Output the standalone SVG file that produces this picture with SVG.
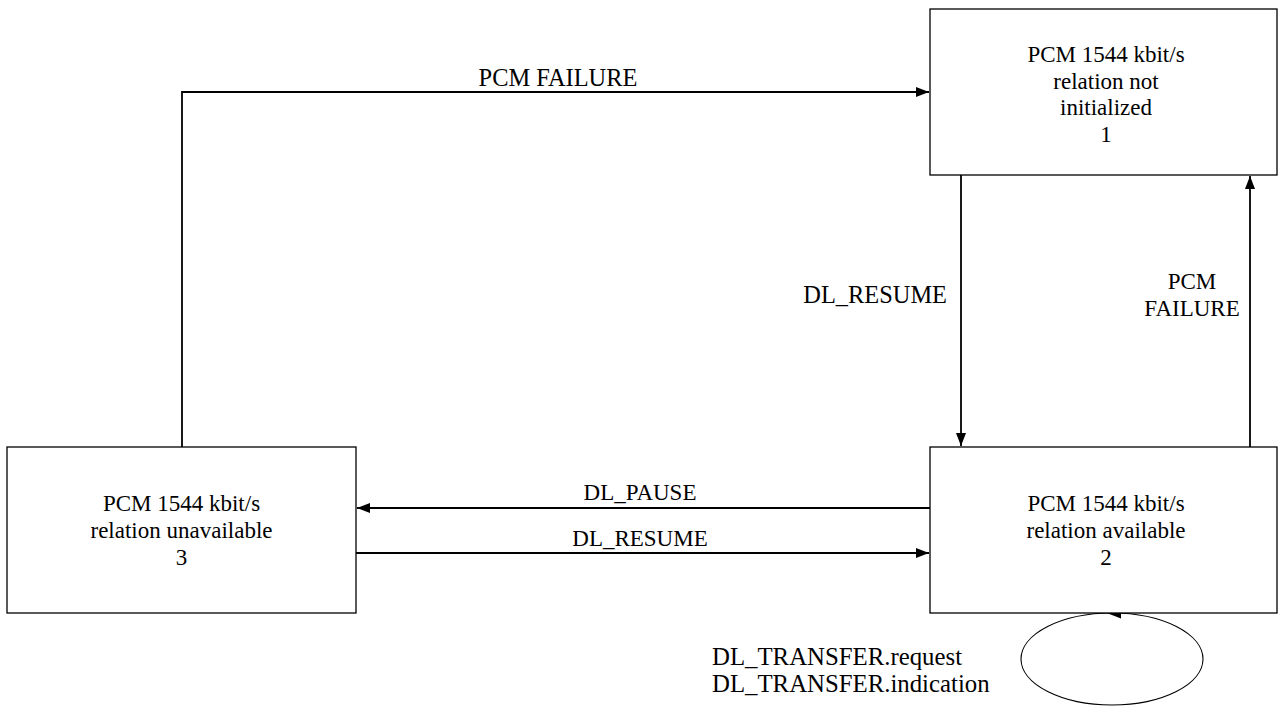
<svg xmlns="http://www.w3.org/2000/svg" width="1278" height="707" viewBox="0 0 1278 707">
<style>
.box{fill:#fff;stroke:#000;stroke-width:1.3}
.t{font-family:"Liberation Serif","Times New Roman",serif;font-size:23px;fill:#000}
.m{text-anchor:middle}
.c{fill:none;stroke:#000;stroke-width:1.8}
</style>
<defs>
<marker id="ah" markerUnits="userSpaceOnUse" markerWidth="14" markerHeight="11" refX="13" refY="5" orient="auto">
<path d="M0,0 L13,5 L0,10 z" fill="#000"/>
</marker>
</defs>
<rect width="1278" height="707" fill="#fff"/>
<g id="connectors">
<path class="c" d="M182,447 V92 H929" marker-end="url(#ah)"/>
<path class="c" d="M961,175 V446" marker-end="url(#ah)"/>
<path class="c" d="M1250,447 V176" marker-end="url(#ah)"/>
<path class="c" d="M930,508 H357" marker-end="url(#ah)"/>
<path class="c" d="M356,553 H929" marker-end="url(#ah)"/>
<ellipse cx="1112" cy="659" rx="91" ry="46" fill="none" stroke="#000" stroke-width="1.1"/>
<path d="M1108,613.5 L1121,608.5 L1121,618.5 z" fill="#000"/>
<text class="t m" x="558" y="86" style="font-size:24.4px">PCM FAILURE</text>
<text class="t" x="947" y="303" text-anchor="end" style="font-size:24.4px">DL_RESUME</text>
<text class="t m" x="1192" y="289">PCM</text>
<text class="t m" x="1192" y="316">FAILURE</text>
<text class="t m" x="640" y="500">DL_PAUSE</text>
<text class="t m" x="640" y="546">DL_RESUME</text>
<text class="t" x="712" y="665" style="font-size:24.8px">DL_TRANSFER.request</text>
<text class="t" x="712" y="692" style="font-size:24.8px">DL_TRANSFER.indication</text>
</g>
<g id="node1">
<rect class="box" x="930" y="9" width="347" height="166"/>
<text class="t m" x="1106" y="62">PCM 1544 kbit/s</text>
<text class="t m" x="1106" y="88.5">relation not</text>
<text class="t m" x="1106" y="115">initialized</text>
<text class="t m" x="1106" y="141.5">1</text>
</g>
<g id="node2">
<rect class="box" x="930" y="447" width="347" height="166"/>
<text class="t m" x="1106" y="511">PCM 1544 kbit/s</text>
<text class="t m" x="1106" y="538">relation available</text>
<text class="t m" x="1106" y="565">2</text>
</g>
<g id="node3">
<rect class="box" x="7" y="447" width="349" height="166"/>
<text class="t m" x="181.5" y="511">PCM 1544 kbit/s</text>
<text class="t m" x="181.5" y="538">relation unavailable</text>
<text class="t m" x="181.5" y="565">3</text>
</g>
</svg>
